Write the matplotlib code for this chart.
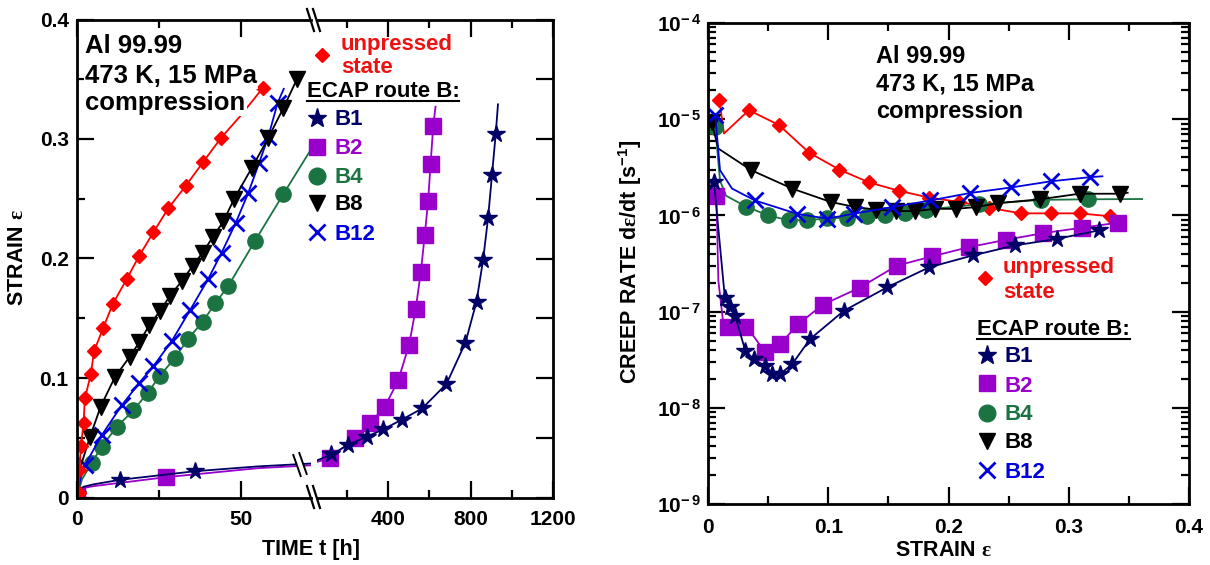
import matplotlib
matplotlib.use('Agg')
import matplotlib.pyplot as plt
from matplotlib.lines import Line2D
from matplotlib.patches import Polygon
from matplotlib.ticker import (MultipleLocator, NullFormatter,
                               FixedLocator, NullLocator, FuncFormatter)
import numpy as np

W, H = 1210, 565
plt.rcParams['font.family'] = ['Liberation Sans', 'DejaVu Sans']
plt.rcParams['font.weight'] = 'bold'
plt.rcParams['mathtext.fontset'] = 'custom'
plt.rcParams['mathtext.bf'] = 'Liberation Sans:bold'
plt.rcParams['mathtext.it'] = 'Liberation Sans:bold'
plt.rcParams['mathtext.rm'] = 'Liberation Serif'
plt.rcParams['mathtext.default'] = 'bf'

# ---------------- data: left panel (time [h] vs strain) ----------------
t_unp = [0, 0.5, 0.7, 1.2, 2.0, 2.4, 4.2, 5.2, 8.0, 10.9, 15.2, 18.9, 23.3, 27.8, 33.2, 38.5, 43.9, 49.7, 56.7]
e_unp = [0, 0.004, 0.023, 0.043, 0.0625, 0.083, 0.103, 0.1225, 0.142, 0.162, 0.183, 0.202, 0.222, 0.242, 0.261, 0.281, 0.301, 0.319, 0.343]
mk_unp = list(range(1, 17)) + [18]

t_b8 = [0, 1.0, 4.0, 7.2, 11.6, 16.0, 19.0, 22.0, 25.3, 28.4, 31.9, 35.3, 38.3, 41.4, 44.6, 47.9, 53.3, 58.3, 62.9, 67.0]
e_b8 = [0, 0.025, 0.051, 0.076, 0.101, 0.1175, 0.130, 0.144, 0.156, 0.169, 0.181, 0.194, 0.205, 0.218, 0.231, 0.250, 0.276, 0.301, 0.326, 0.350]
mk_b8 = list(range(2, 20))

t_b12 = [0, 1.0, 2.4, 7.5, 13.6, 19.0, 23.3, 28.9, 34.5, 40.0, 44.1, 48.4, 52.2, 55.5, 58.3, 61.1, 63.0]
e_b12 = [0, 0.015, 0.027, 0.052, 0.077, 0.096, 0.110, 0.131, 0.157, 0.183, 0.205, 0.230, 0.255, 0.280, 0.302, 0.330, 0.342]
mk_b12 = list(range(2, 16))

t_b4 = [0, 1.5, 4.5, 7.5, 12.1, 17.2, 21.5, 25.3, 29.9, 33.9, 38.3, 42.1, 46.1, 54.3, 62.9, 71.0]
e_b4 = [0, 0.015, 0.029, 0.0425, 0.059, 0.073, 0.0875, 0.102, 0.117, 0.133, 0.147, 0.1625, 0.177, 0.215, 0.254, 0.290]
mk_b4 = list(range(2, 15))

t_b1_a = [0, 0.5, 2, 5, 13.1, 36.0, 55, 75]
e_b1_a = [0.003, 0.006, 0.009, 0.011, 0.0148, 0.022, 0.026, 0.029]
mk_b1_a = [0, 4, 5]
t_b2_a = [0, 0.5, 2, 5, 27.1, 55, 75]
e_b2_a = [0.002, 0.005, 0.008, 0.0095, 0.017, 0.0245, 0.0275]
mk_b2_a = [0, 4]

t_b1_b = [40, 125, 206, 298, 376, 465, 565, 683, 775, 829, 861, 885, 904, 922, 933]
e_b1_b = [0.030, 0.036, 0.044, 0.051, 0.057, 0.065, 0.0745, 0.095, 0.1295, 0.164, 0.199, 0.234, 0.270, 0.304, 0.329]
mk_b1_b = list(range(1, 14))
t_b2_b = [40, 117, 238, 311, 384, 449, 502, 534, 559, 578, 594, 606, 619, 630]
e_b2_b = [0.029, 0.033, 0.0495, 0.062, 0.076, 0.098, 0.128, 0.158, 0.189, 0.220, 0.248, 0.279, 0.311, 0.327]
mk_b2_b = list(range(1, 13))

# ---------------- data: right panel (strain vs creep rate) ----------------
s_unp = [0.0094, 0.0133, 0.034, 0.059, 0.084, 0.109, 0.134, 0.159, 0.184, 0.209, 0.234, 0.260, 0.285, 0.309, 0.334]
r_unp = [1.6e-5, 7.1e-6, 1.24e-5, 8.7e-6, 4.5e-6, 3.0e-6, 2.2e-6, 1.8e-6, 1.53e-6, 1.38e-6, 1.2e-6, 1.05e-6, 1.05e-6, 1.05e-6, 9.8e-7]
mr_unp = [0] + list(range(2, 15))

s_b8 = [0.003, 0.0086, 0.036, 0.070, 0.102, 0.1225, 0.140, 0.156, 0.1725, 0.189, 0.206, 0.223, 0.241, 0.276, 0.309, 0.343, 0.349]
r_b8 = [9.3e-6, 4.95e-6, 2.95e-6, 1.9e-6, 1.38e-6, 1.22e-6, 1.15e-6, 1.11e-6, 1.11e-6, 1.17e-6, 1.17e-6, 1.22e-6, 1.34e-6, 1.47e-6, 1.68e-6, 1.68e-6, 1.72e-6]
mr_b8 = [0] + list(range(2, 16))

s_b4 = [0.006, 0.010, 0.015, 0.032, 0.050, 0.067, 0.082, 0.099, 0.116, 0.132, 0.1475, 0.164, 0.181, 0.225, 0.277, 0.316, 0.361]
r_b4 = [8.3e-6, 2.3e-6, 1.6e-6, 1.23e-6, 1.0e-6, 8.9e-7, 8.9e-7, 9.3e-7, 9.5e-7, 9.8e-7, 1.0e-6, 1.05e-6, 1.15e-6, 1.3e-6, 1.45e-6, 1.47e-6, 1.48e-6]
mr_b4 = [0] + list(range(3, 16))

s_b12 = [0.006, 0.010, 0.020, 0.039, 0.074, 0.099, 0.121, 0.153, 0.185, 0.218, 0.252, 0.285, 0.318, 0.328]
r_b12 = [1.1e-5, 2.95e-6, 1.9e-6, 1.43e-6, 1.04e-6, 9.25e-7, 1.04e-6, 1.22e-6, 1.43e-6, 1.71e-6, 1.95e-6, 2.26e-6, 2.5e-6, 2.55e-6]
mr_b12 = [0] + list(range(3, 13))

s_b2 = [0.007, 0.0086, 0.0128, 0.017, 0.031, 0.036, 0.0475, 0.060, 0.075, 0.0955, 0.126, 0.157, 0.186, 0.217, 0.248, 0.279, 0.311, 0.341]
r_b2 = [1.6e-6, 2.1e-7, 7.4e-8, 6.9e-8, 6.9e-8, 6.0e-8, 3.77e-8, 4.6e-8, 7.4e-8, 1.18e-7, 1.77e-7, 3.0e-7, 3.74e-7, 4.68e-7, 5.58e-7, 6.55e-7, 7.45e-7, 8.4e-7]
mr_b2 = [0, 3, 4] + list(range(6, 18))

s_b1 = [0.005, 0.014, 0.018, 0.0225, 0.031, 0.038, 0.047, 0.053, 0.060, 0.070, 0.085, 0.113, 0.149, 0.184, 0.220, 0.255, 0.290, 0.325]
r_b1 = [2.2e-6, 1.4e-7, 1.11e-7, 9.1e-8, 3.93e-8, 3.2e-8, 2.74e-8, 2.24e-8, 2.24e-8, 2.85e-8, 5.2e-8, 1.02e-7, 1.79e-7, 2.89e-7, 3.83e-7, 4.87e-7, 5.7e-7, 6.98e-7]
mr_b1 = list(range(0, 18))

legend_labels = ['B1', 'B2', 'B4', 'B8', 'B12']
rate_decades = [1e-9, 1e-8, 1e-7, 1e-6, 1e-5, 1e-4]

# ---------------- styles ----------------
STY = {
    'unp': dict(color='#ff0000', marker='D', ms=7.5, mew=1),
    'B1': dict(color='#000066', marker='*', ms=13, mew=1),
    'B2': dict(color='#9900cc', marker='s', ms=11, mew=1),
    'B4': dict(color='#1b7342', marker='o', ms=11, mew=1),
    'B8': dict(color='#000000', marker='v', ms=11, mew=1),
    'B12': dict(color='#0000dd', marker='x', ms=11, mew=2),
}
TXTCOL = {'B1': '#000066', 'B2': '#9900cc', 'B4': '#1b7342', 'B8': '#000000', 'B12': '#0000dd'}
RED_TXT = '#ee1111'


def fx(x):
    return x / W


def fy(y):
    return 1 - y / H


def draw(ax, x, y, mk, key, lw=1.3, z=2):
    st = STY[key]
    ax.plot(x, y, color=st['color'], lw=lw, marker=st['marker'], ms=st['ms'],
            mew=st['mew'], mec=st['color'], mfc=st['color'], markevery=mk, zorder=z)


fig = plt.figure(figsize=(12.1, 5.65), dpi=100)

axL = fig.add_axes([fx(77), fy(497.5), (311 - 77) / W, (497.5 - 19.5) / H])
axR = fig.add_axes([fx(317), fy(497.5), (553 - 317) / W, (497.5 - 19.5) / H])
ax2 = fig.add_axes([fx(708), fy(504), (1189 - 708) / W, (504 - 23) / H])

# left segment
draw(axL, t_b2_a, e_b2_a, mk_b2_a, 'B2')
draw(axL, t_b1_a, e_b1_a, mk_b1_a, 'B1')
draw(axL, t_b4, e_b4, mk_b4, 'B4')
draw(axL, t_b12, e_b12, mk_b12, 'B12')
draw(axL, t_b8, e_b8, mk_b8, 'B8')
draw(axL, t_unp, e_unp, mk_unp, 'unp')
# right segment
draw(axR, t_b2_b, e_b2_b, mk_b2_b, 'B2')
draw(axR, t_b1_b, e_b1_b, mk_b1_b, 'B1')

lab_fmt = FuncFormatter(lambda v, p: '0' if abs(v) < 1e-9 else f'{v:.1f}')
for ax in (axL, axR, ax2):
    for sp in ax.spines.values():
        sp.set_linewidth(2)

axL.set_xlim(0, 71.3)
axL.set_ylim(0, 0.4)
axL.xaxis.set_major_locator(FixedLocator([0, 50]))
axL.xaxis.set_minor_locator(FixedLocator([25]))
axL.yaxis.set_major_locator(MultipleLocator(0.1))
axL.yaxis.set_minor_locator(MultipleLocator(0.05))
axL.yaxis.set_major_formatter(lab_fmt)
axL.tick_params(which='both', direction='in', top=True, bottom=True, left=True,
                right=False, width=1.6, labelsize=15)
axL.tick_params(which='major', length=12)
axL.tick_params(which='minor', length=6)
axL.tick_params(axis='x', pad=9)
axL.tick_params(axis='y', pad=6)
axL.spines['right'].set_visible(False)

axR.set_xlim(55, 1200)
axR.set_ylim(0, 0.4)
axR.xaxis.set_major_locator(FixedLocator([400, 800, 1200]))
axR.xaxis.set_minor_locator(FixedLocator([200, 600, 1000]))
axR.yaxis.set_major_locator(MultipleLocator(0.05))
axR.yaxis.set_minor_locator(NullLocator())
axR.tick_params(which='both', direction='in', top=True, bottom=True, left=False,
                right=True, labelleft=False, width=1.6, labelsize=15)
axR.tick_params(which='major', length=12)
axR.tick_params(which='minor', length=6)
axR.tick_params(axis='x', pad=9)
axR.spines['left'].set_visible(False)

# right panel
draw(ax2, s_unp, r_unp, mr_unp, 'unp')
draw(ax2, s_b4, r_b4, mr_b4, 'B4')
draw(ax2, s_b8, r_b8, mr_b8, 'B8')
draw(ax2, s_b12, r_b12, mr_b12, 'B12')
draw(ax2, s_b2, r_b2, mr_b2, 'B2')
draw(ax2, s_b1, r_b1, mr_b1, 'B1')
ax2.set_yscale('log')
ax2.set_xlim(0, 0.4)
ax2.set_ylim(1e-9, 1e-4)
ax2.xaxis.set_major_locator(MultipleLocator(0.1))
ax2.xaxis.set_minor_locator(MultipleLocator(0.05))
ax2.xaxis.set_major_formatter(lab_fmt)
ax2.yaxis.set_major_locator(FixedLocator(rate_decades))
ax2.yaxis.set_minor_locator(FixedLocator([m * d for d in rate_decades[:-1] for m in range(2, 10)]))
ax2.yaxis.set_minor_formatter(NullFormatter())
ax2.yaxis.set_major_formatter(FuncFormatter(lambda v, p: r'$10^{-\,%d}$' % round(-np.log10(v))))
ax2.tick_params(which='both', direction='in', top=True, bottom=True, left=True,
                right=True, width=1.6, labelsize=15)
ax2.tick_params(which='major', length=12)
ax2.tick_params(which='minor', length=6)
ax2.tick_params(axis='x', pad=10)
ax2.tick_params(axis='y', pad=5)

# axis labels
fig.text(fx(18), fy(258), r'STRAIN $\mathrm{\varepsilon}$', rotation=90, ha='center', va='center', size=15.5)
fig.text(fx(311), fy(550), 'TIME t [h]', ha='center', va='center', size=15.5)
fig.text(fx(630), fy(262), r'CREEP RATE d$\mathrm{\varepsilon}$/dt [s$^{-1}$]', rotation=90,
         ha='center', va='center', size=15.5)
fig.text(fx(943), fy(550), r'STRAIN $\mathrm{\varepsilon}$', ha='center', va='center', size=15.5)

# annotations
for txt, yb in (('Al 99.99', 53), ('473 K, 15 MPa', 83), ('compression', 110)):
    axL.text(fx(85), fy(yb), txt, transform=fig.transFigure, ha='left', va='baseline',
             size=18.5, zorder=2.2, clip_on=False,
             bbox=dict(facecolor='white', edgecolor='none', pad=1))
for txt, yb in (('Al 99.99', 63), ('473 K, 15 MPa', 91), ('compression', 118)):
    fig.text(fx(876), fy(yb), txt, ha='left', va='baseline', size=17)


def legend(xd, yd, xs, ys_un, ys_st, xe, ye, xline, yline, xm, xt, ym, yt):
    fig.add_artist(Line2D([fx(xd)], [fy(yd)], marker='D', ms=STY['unp']['ms'],
                          color=STY['unp']['color'], transform=fig.transFigure))
    fig.text(fx(xs), fy(ys_un), 'unpressed', color=RED_TXT, size=16, va='baseline')
    fig.text(fx(xs), fy(ys_st), 'state', color=RED_TXT, size=16, va='baseline')
    fig.text(fx(xe), fy(ye), 'ECAP route B:', color='black', size=16, va='baseline')
    fig.add_artist(Line2D([fx(xline[0]), fx(xline[1])], [fy(yline), fy(yline)],
                          color='black', lw=1.5, transform=fig.transFigure))
    for lab, y_m, y_t in zip(legend_labels, ym, yt):
        st = STY[lab]
        fig.add_artist(Line2D([fx(xm)], [fy(y_m)], marker=st['marker'], ms=st['ms'] + 1,
                              mew=st['mew'], color=st['color'], transform=fig.transFigure))
        fig.text(fx(xt), fy(y_t), lab, color=TXTCOL[lab], size=16, va='baseline')


legend(322, 55, 341, 50, 73, 307, 97, (307, 459), 100.5, 317, 334,
       [118, 147, 176, 203, 232], [125, 154, 183, 210, 240])
legend(985, 278, 1003, 273, 298, 977, 335, (977, 1130), 338.5, 987, 1005,
       [355, 383, 413, 441, 470], [362, 392, 420, 448, 478])

# axis break marks
for (x0, y0, x1, y1) in [(307, 9, 314, 31), (313, 9, 320, 31),
                         (307, 486, 314, 508), (313, 486, 320, 508)]:
    fig.add_artist(Line2D([fx(x0), fx(x1)], [fy(y0), fy(y1)], color='black', lw=1.6,
                          transform=fig.transFigure))
fig.add_artist(Polygon([(fx(293.5), fy(455)), (fx(299.5), fy(453.5)),
                        (fx(306.5), fy(473.5)), (fx(300.5), fy(475))],
                       closed=True, facecolor='white', edgecolor='none',
                       transform=fig.transFigure, zorder=1))
for (x0, y0, x1, y1) in [(293.3, 455, 300.7, 476), (299.3, 453, 306.7, 474)]:
    fig.add_artist(Line2D([fx(x0), fx(x1)], [fy(y0), fy(y1)], color='black', lw=1.4,
                          transform=fig.transFigure, zorder=2))

fig.savefig('out.png', dpi=100)
